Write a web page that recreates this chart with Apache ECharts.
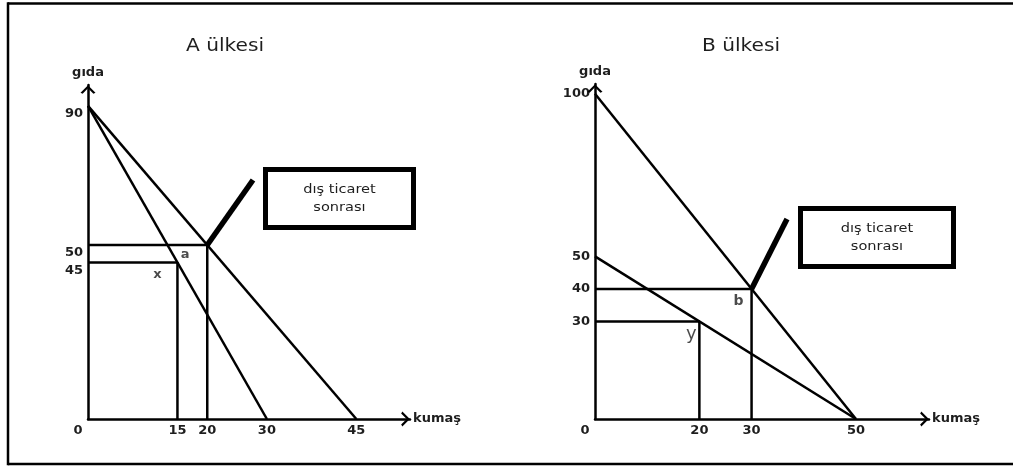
<!DOCTYPE html>
<html>
<head>
<meta charset="utf-8">
<script src="https://cdn.jsdelivr.net/npm/echarts@6/dist/echarts.min.js"></script>
<style>
html,body{margin:0;padding:0;background:#fff;}
#c{width:1013px;height:466px;}
</style>
</head>
<body>
<div id="c"></div>
<script>
// ---------- Country A ----------
const titleA = 'A ülkesi';
const ppfA = [[0, 90], [30, 0]];            // production possibility frontier
const tradeA = [[0, 90], [45, 0]];          // trade line
const preTradeA = [[0, 45], [15, 45], [15, 0]];   // point x
const postTradeA = [[0, 50], [20, 50], [20, 0]];  // point a
const xTicksA = [0, 15, 20, 30, 45];
const yTicksA = [90, 50, 45];
const pointsA = [{ name: 'x', value: [15, 45] }, { name: 'a', value: [20, 50] }];

// ---------- Country B ----------
const titleB = 'B ülkesi';
const ppfB = [[0, 50], [50, 0]];
const tradeB = [[0, 100], [50, 0]];
const preTradeB = [[0, 30], [20, 30], [20, 0]];   // point y
const postTradeB = [[0, 40], [30, 40], [30, 0]];  // point b
const xTicksB = [0, 20, 30, 50];
const yTicksB = [100, 50, 40, 30];
const pointsB = [{ name: 'y', value: [20, 30] }, { name: 'b', value: [30, 40] }];

const xName = 'kumaş';
const yName = 'gıda';
const calloutText = ['dış ticaret', 'sonrası'];

// ---------- styling ----------
const FONT = 'DejaVu Sans';
const INK = '#1e1e1e';
const LW = 2.5;
const chevron = 'path://M0,10 L10,0 L20,10 L17.2,11.6 L10,4.2 L2.8,11.6 Z';
const tickFont = { fontFamily: FONT, fontWeight: 'bold', fontSize: 13, color: INK };

const labelStyle = {
  x: { offset: [-20, 12], fontSize: 13, fontWeight: 'bold' },
  a: { offset: [-22, 10], fontSize: 13, fontWeight: 'bold' },
  b: { offset: [-13, 12], fontSize: 14, fontWeight: 'bold' },
  y: { offset: [-8, 13], fontSize: 18, fontWeight: 'normal' }
};

function xAxisCfg(gridIndex, max, ticks) {
  return {
    gridIndex, type: 'value', min: 0, max,
    axisLine: { show: true, onZero: false, lineStyle: { color: '#000', width: LW },
      symbol: ['none', chevron], symbolSize: [15, 9], symbolOffset: [0, -4.5] },
    axisTick: { show: false }, splitLine: { show: false },
    axisLabel: Object.assign({
      customValues: ticks, margin: 5,
      formatter: v => v === 0 ? '{z|0}' : String(v),
      rich: { z: Object.assign({ padding: [0, 20, 0, 0] }, tickFont) }
    }, tickFont),
    name: xName, nameLocation: 'end', nameGap: 3,
    nameTextStyle: Object.assign({ padding: [20, 0, 0, 0] }, tickFont)
  };
}
function yAxisCfg(gridIndex, max, ticks, pad) {
  return {
    gridIndex, type: 'value', min: 0, max,
    axisLine: { show: true, onZero: false, lineStyle: { color: '#000', width: LW },
      symbol: ['none', chevron], symbolSize: [15, 9], symbolOffset: [0, -4.5] },
    axisTick: { show: false }, splitLine: { show: false },
    axisLabel: Object.assign({
      customValues: ticks, margin: 5,
      formatter: v => '{p|' + v + '}',
      rich: { p: Object.assign({ padding: [pad, 0, 0, 0] }, tickFont) }
    }, tickFont),
    name: yName, nameLocation: 'end', nameGap: 6,
    nameTextStyle: tickFont
  };
}
function lineSeries(data, idx) {
  return {
    type: 'line', data, xAxisIndex: idx, yAxisIndex: idx,
    symbol: 'none', silent: true, animation: false,
    lineStyle: { color: '#000', width: LW }
  };
}
function labelSeries(points, idx) {
  return {
    type: 'scatter', xAxisIndex: idx, yAxisIndex: idx, symbolSize: 0, silent: true,
    data: points.map(p => {
      const s = labelStyle[p.name];
      return {
        name: p.name, value: p.value,
        label: { show: true, position: 'inside', formatter: p.name, offset: s.offset,
          fontFamily: FONT, fontSize: s.fontSize, fontWeight: s.fontWeight, color: INK }
      };
    })
  };
}

const chart = echarts.init(document.getElementById('c'), null, { renderer: 'canvas' });
chart.setOption({
  animation: false,
  backgroundColor: '#fff',
  grid: [
    { left: 88, top: 85, width: 322, height: 334, outerBoundsMode: 'none', containLabel: false },
    { left: 595, top: 84, width: 334, height: 335, outerBoundsMode: 'none', containLabel: false }
  ],
  xAxis: [xAxisCfg(0, 54, xTicksA), xAxisCfg(1, 64, xTicksB)],
  yAxis: [yAxisCfg(0, 96, yTicksA, 16), yAxisCfg(1, 103, yTicksB, 0)],
  series: [
    lineSeries(ppfA, 0), lineSeries(tradeA, 0), lineSeries(preTradeA, 0), lineSeries(postTradeA, 0),
    labelSeries(pointsA, 0),
    lineSeries(ppfB, 1), lineSeries(tradeB, 1), lineSeries(preTradeB, 1), lineSeries(postTradeB, 1),
    labelSeries(pointsB, 1)
  ]
});

// ---------- annotations (callout boxes pointing at the post-trade points) ----------
const aPx = chart.convertToPixel({ gridIndex: 0 }, postTradeA[1]);
const bPx = chart.convertToPixel({ gridIndex: 1 }, postTradeB[1]);

function callout(pt, tipEnd, box) {
  const cx = box.x + box.w / 2;
  return [
    { type: 'line', shape: { x1: pt[0], y1: pt[1], x2: tipEnd[0], y2: tipEnd[1] },
      style: { stroke: '#000', lineWidth: 5.5 }, z: 10 },
    { type: 'rect', shape: { x: box.x, y: box.y, width: box.w, height: box.h },
      style: { stroke: '#000', fill: '#fff', lineWidth: 5 }, z: 10 },
    { type: 'text', x: cx, y: box.y + 20, scaleX: 1.12, z: 11,
      style: { text: calloutText[0], font: '13px "' + FONT + '"', fill: INK, align: 'center', verticalAlign: 'middle' } },
    { type: 'text', x: cx, y: box.y + 38.5, scaleX: 1.12, z: 11,
      style: { text: calloutText[1], font: '13px "' + FONT + '"', fill: INK, align: 'center', verticalAlign: 'middle' } }
  ];
}

chart.setOption({
  graphic: [
    // outer frame
    { type: 'line', shape: { x1: 8, y1: 3.4, x2: 1013, y2: 3.4 }, style: { stroke: '#000', lineWidth: 2.5 } },
    { type: 'line', shape: { x1: 8, y1: 2.2, x2: 8, y2: 465.2 }, style: { stroke: '#000', lineWidth: 2.5 } },
    { type: 'line', shape: { x1: 8, y1: 464, x2: 1013, y2: 464 }, style: { stroke: '#000', lineWidth: 2.5 } },
    // titles
    { type: 'text', x: 225, y: 46, scaleX: 1.12,
      style: { text: titleA, font: '18px "' + FONT + '"', fill: INK, align: 'center', verticalAlign: 'middle' } },
    { type: 'text', x: 741, y: 46, scaleX: 1.12,
      style: { text: titleB, font: '18px "' + FONT + '"', fill: INK, align: 'center', verticalAlign: 'middle' } }
  ]
    .concat(callout(aPx, [253, 180], { x: 265.5, y: 169.5, w: 148, h: 58 }))
    .concat(callout(bPx, [787, 219], { x: 800.5, y: 208.5, w: 153, h: 58 }))
});
</script>
</body>
</html>
